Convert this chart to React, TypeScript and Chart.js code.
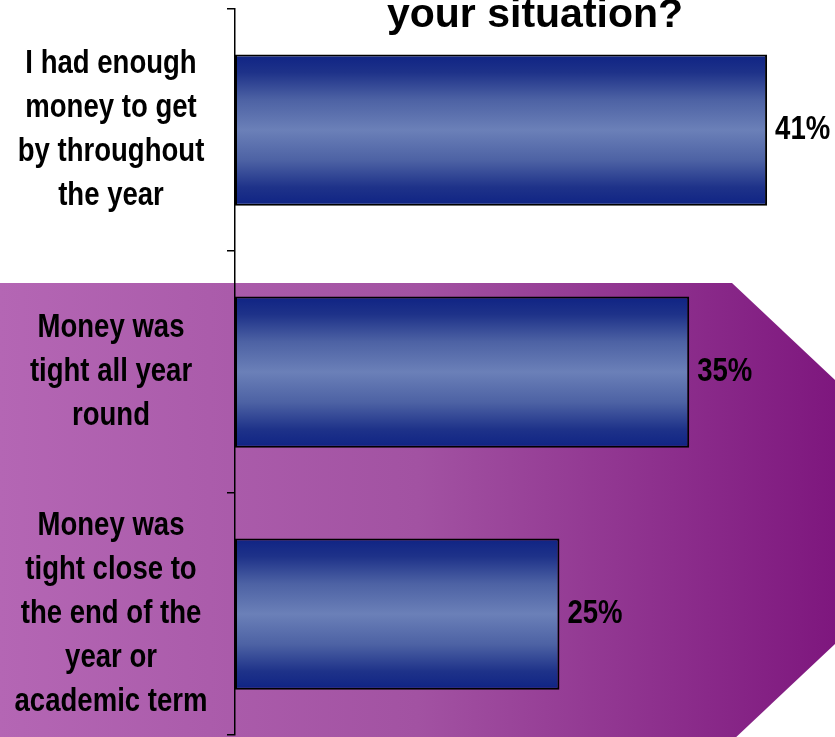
import React, { useEffect, useRef } from 'react';
import { Chart, registerables } from 'chart.js';

Chart.register(...registerables);

const categories: string[][] = [
  ['I had enough', 'money to get', 'by throughout', 'the year'],
  ['Money was', 'tight all year', 'round'],
  ['Money was', 'tight close to', 'the end of the', 'year or', 'academic term'],
];
const values: number[] = [41, 35, 25];
const titleText = 'your situation?';
const axisMax = 45;

const FONT = '"Liberation Sans", Arial, sans-serif';
const SQUEEZE = 0.81;
const LABEL_SIZE = 34;
const LINE_GAP = 44;

function narrowText(ctx: any, text: string, x: number, y: number, align: 'left' | 'center') {
  ctx.save();
  ctx.translate(x, y);
  ctx.scale(SQUEEZE, 1);
  ctx.textAlign = align;
  ctx.fillText(text, 0, 0);
  ctx.restore();
}

const backgroundPlugin = {
  id: 'arrowBackground',
  beforeDraw(chart: any) {
    const { ctx, width, height } = chart;
    ctx.save();
    ctx.fillStyle = '#ffffff';
    ctx.fillRect(0, 0, width, height);
    const g = ctx.createLinearGradient(0, 0, width, 0);
    g.addColorStop(0, '#B466B4');
    g.addColorStop(0.5, '#A252A2');
    g.addColorStop(1, '#7E177E');
    ctx.fillStyle = g;
    ctx.beginPath();
    ctx.moveTo(0, 283);
    ctx.lineTo(732, 283);
    ctx.lineTo(975, 512);
    ctx.lineTo(732, 741);
    ctx.lineTo(0, 741);
    ctx.closePath();
    ctx.fill();
    ctx.restore();
  },
};

const labelsPlugin = {
  id: 'textLabels',
  afterDatasetsDraw(chart: any) {
    const { ctx } = chart;
    const meta = chart.getDatasetMeta(0);
    ctx.save();
    ctx.fillStyle = '#000';
    ctx.font = `bold ${LABEL_SIZE}px ${FONT}`;
    ctx.textBaseline = 'middle';
    meta.data.forEach((bar: any, i: number) => {
      narrowText(ctx, `${values[i]}%`, bar.x + 8, bar.y, 'left');
    });
    ctx.restore();
  },
  afterDraw(chart: any) {
    const { ctx, chartArea } = chart;
    const yScale = chart.scales.y;
    ctx.save();
    ctx.fillStyle = '#000';
    ctx.font = `bold ${LABEL_SIZE}px ${FONT}`;
    ctx.textBaseline = 'middle';
    const cx = 111;
    categories.forEach((lines, i) => {
      const cy = yScale.getPixelForValue(i);
      const start = cy - ((lines.length - 1) * LINE_GAP) / 2;
      lines.forEach((line, j) => {
        narrowText(ctx, line, cx, start + j * LINE_GAP, 'center');
      });
    });
    ctx.font = `bold 41px ${FONT}`;
    ctx.textAlign = 'center';
    ctx.textBaseline = 'alphabetic';
    ctx.fillText(titleText, (chartArea.left + chart.width) / 2, 27);
    ctx.restore();
  },
};

function barGradient(context: any) {
  const chart = context.chart;
  const area = chart.chartArea;
  const yScale = chart.scales?.y;
  if (!area || !yScale || context.dataIndex === undefined) return '#3A4F9C';
  const center = yScale.getPixelForValue(context.dataIndex);
  const band = (area.bottom - area.top) / categories.length;
  const h = band * 0.625;
  const g = chart.ctx.createLinearGradient(0, center - h / 2, 0, center + h / 2);
  g.addColorStop(0, '#0F2384');
  g.addColorStop(0.12, '#1E3289');
  g.addColorStop(0.3, '#4D62A4');
  g.addColorStop(0.5, '#6B80B8');
  g.addColorStop(0.7, '#4D62A4');
  g.addColorStop(0.88, '#1E3289');
  g.addColorStop(1, '#0F2384');
  return g;
}

export default function App() {
  const ref = useRef<HTMLCanvasElement | null>(null);
  useEffect(() => {
    if (!ref.current) return;
    const chart = new Chart(ref.current, {
      type: 'bar',
      data: {
        labels: categories.map((l) => l.join(' ')),
        datasets: [
          {
            data: values,
            backgroundColor: barGradient,
            borderColor: '#000',
            borderWidth: 2,
            borderSkipped: false,
            barPercentage: 0.625,
            categoryPercentage: 1,
          },
        ],
      },
      options: {
        indexAxis: 'y',
        responsive: false,
        animation: false,
        devicePixelRatio: 1,
        layout: { padding: { top: 9, bottom: 2, right: 16, left: 0 } },
        plugins: { legend: { display: false }, title: { display: false }, tooltip: { enabled: false } },
        scales: {
          x: { display: false, min: 0, max: axisMax },
          y: {
            offset: true,
            grid: {
              display: true,
              drawOnChartArea: false,
              drawTicks: true,
              tickLength: 8,
              color: '#000',
              lineWidth: 1.5,
              offset: true,
            },
            border: { display: true, color: '#000', width: 1.5 },
            ticks: {
              color: 'rgba(0,0,0,0)',
              autoSkip: false,
              font: { size: 10 },
            },
            afterFit(scale: any) {
              scale.width = 235;
              scale.paddingTop = 0;
              scale.paddingBottom = 0;
            },
          },
        },
      },
      plugins: [backgroundPlugin, labelsPlugin],
    } as any);
    return () => chart.destroy();
  }, []);
  return (
    <div style={{ position: 'fixed', left: 0, top: 0, width: 835, height: 737 }}>
      <canvas ref={ref} width={835} height={737} style={{ display: 'block', width: 835, height: 737 }} />
    </div>
  );
}
